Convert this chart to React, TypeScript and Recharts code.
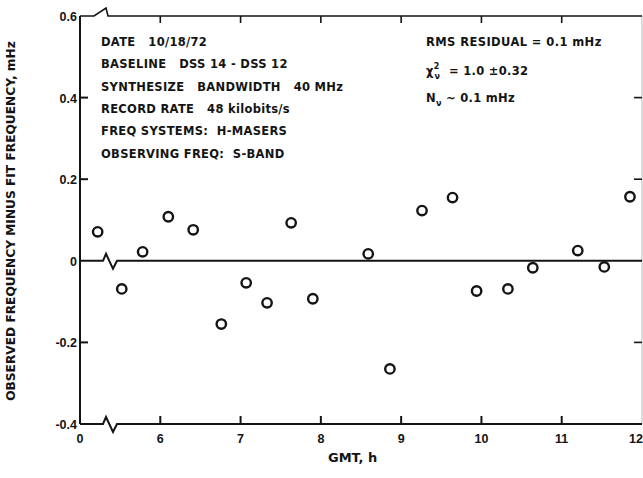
import { ScatterChart, Scatter, XAxis, YAxis, ReferenceLine } from 'recharts';

const gmtHours = [5.22, 5.52, 5.78, 6.1, 6.41, 6.76, 7.07, 7.33, 7.63, 7.9, 8.59, 8.86, 9.26, 9.64, 9.94, 10.33, 10.64, 11.2, 11.53, 11.85];
const residuals = [0.071, -0.069, 0.022, 0.108, 0.076, -0.155, -0.054, -0.103, 0.093, -0.093, 0.017, -0.265, 0.123, 0.155, -0.074, -0.069, -0.017, 0.025, -0.015, 0.157];
const xTicks = [5, 6, 7, 8, 9, 10, 11, 12];
const yTicks = [-0.4, -0.2, 0, 0.2, 0.4, 0.6];
const markedX = [6, 7, 8, 9, 10, 11];
const markedY = [0.4, 0.2, -0.2];
const infoLines = [
  'DATE   10/18/72',
  'BASELINE   DSS 14 - DSS 12',
  'SYNTHESIZE   BANDWIDTH   40 MHz',
  'RECORD RATE   48 kilobits/s',
  'FREQ SYSTEMS:  H-MASERS',
  'OBSERVING FREQ:  S-BAND',
];

const data = gmtHours.map((x, i) => ({ x, y: residuals[i] }));

const ink = '#141414';
const numFont = '"Liberation Sans", Arial, sans-serif';
const txtFont = '"DejaVu Sans", sans-serif';

// x axis is broken after the origin, first tick reads 0
const fmtX = (v: number) => (v === 5 ? '0' : String(v));
const fmtY = (v: number) => (v === 0 ? '0' : v.toFixed(1));

const BottomTick = ({ x, y, payload }: any) => {
  const last = payload.value === 12;
  return (
    <text
      x={last ? x + 1 : x}
      y={y + 19}
      textAnchor={last ? 'end' : 'middle'}
      fontSize={12.5}
      fontWeight="bold"
      fill={ink}
      fontFamily={numFont}
    >
      {fmtX(payload.value)}
    </text>
  );
};

const LeftTick = ({ x, y, payload }: any) => (
  <text x={x - 3} y={y + 5} textAnchor="end" fontSize={12.5} fontWeight="bold" fill={ink} fontFamily={numFont}>
    {fmtY(payload.value)}
  </text>
);

// short inward marks at both ends of a grid position
const vMarks = (props: any) => {
  const { x1, y1, y2 } = props;
  const top = Math.min(y1, y2);
  const bot = Math.max(y1, y2);
  return (
    <g>
      <line x1={x1} y1={top} x2={x1} y2={top + 7} stroke={ink} strokeWidth={1.6} />
      <line x1={x1} y1={bot} x2={x1} y2={bot - 8} stroke={ink} strokeWidth={2} />
    </g>
  );
};

const hMarks = (props: any) => {
  const { x1, x2, y1 } = props;
  const l = Math.min(x1, x2);
  const r = Math.max(x1, x2);
  return (
    <g>
      <line x1={l} y1={y1} x2={l + 8} y2={y1} stroke={ink} strokeWidth={2} />
      <line x1={r} y1={y1} x2={r - 8} y2={y1} stroke={ink} strokeWidth={1.6} />
    </g>
  );
};

const zigzag = (props: any) => {
  const { x1, y1, x2 } = props;
  const bx = x1 + 23;
  const d = `M${x1},${y1} L${bx},${y1} L${bx + 3},${y1 - 7} L${bx + 10},${y1 + 8} L${bx + 14},${y1} L${x2},${y1}`;
  return <path d={d} fill="none" stroke={ink} strokeWidth={2} />;
};

const caret = (props: any) => {
  const { x1, y1, x2 } = props;
  const bx = x1 + 14;
  const d = `M${x1},${y1} L${bx},${y1} L${bx + 12},${y1 - 8} L${bx + 14},${y1} L${x2},${y1}`;
  return <path d={d} fill="none" stroke={ink} strokeWidth={1.6} />;
};

const ringShape = (props: any) => (
  <circle cx={props.cx} cy={props.cy} r={4.7} fill="none" stroke={ink} strokeWidth={2.4} />
);

export default function App() {
  return (
    <div style={{ position: 'absolute', left: 0, top: 0, width: 643, height: 478, background: '#fff' }}>
      <ScatterChart width={643} height={478} margin={{ top: 16, right: 1, bottom: 24, left: 0 }}>
        <XAxis
          type="number"
          dataKey="x"
          domain={[5, 12]}
          ticks={xTicks}
          height={30}
          axisLine={false}
          tickLine={false}
          tickSize={0}
          tickMargin={0}
          tick={<BottomTick />}
          interval={0}
        />
        <YAxis
          type="number"
          dataKey="y"
          domain={[-0.4, 0.6]}
          ticks={yTicks}
          width={80}
          axisLine={{ stroke: ink, strokeWidth: 2 }}
          tickLine={false}
          tickSize={0}
          tickMargin={0}
          tick={<LeftTick />}
          interval={0}
        />
        <ReferenceLine x={12} ifOverflow="visible" stroke="#c4c4c4" strokeWidth={1.2} />
        {markedX.map((v) => (
          <ReferenceLine key={'x' + v} x={v} ifOverflow="visible" shape={vMarks} />
        ))}
        {markedY.map((v) => (
          <ReferenceLine key={'y' + v} y={v} ifOverflow="visible" shape={hMarks} />
        ))}
        <ReferenceLine y={0.6} ifOverflow="visible" shape={caret} />
        <ReferenceLine y={0} ifOverflow="visible" shape={zigzag} />
        <ReferenceLine y={-0.4} ifOverflow="visible" shape={zigzag} />
        <Scatter data={data} shape={ringShape} isAnimationActive={false} />
      </ScatterChart>
      <svg width={643} height={478} style={{ position: 'absolute', left: 0, top: 0, pointerEvents: 'none' }}>
        <g fontFamily={txtFont} fontWeight="bold" fill={ink}>
          {infoLines.map((t, i) => (
            <text key={i} x={101} y={46 + i * 22.3} fontSize={11.5} letterSpacing={0.3} xmlSpace="preserve">
              {t}
            </text>
          ))}
          <text x={426} y={46} fontSize={11.5} letterSpacing={0.4} xmlSpace="preserve">RMS RESIDUAL = 0.1 mHz</text>
          <text x={426} y={75} fontSize={11.5} letterSpacing={0.3} xmlSpace="preserve">
            <tspan>χ</tspan>
            <tspan dy={-6} fontSize={8}>2</tspan>
            <tspan dx={-5} dy={10} fontSize={8}>ν</tspan>
            <tspan dy={-4}>{'  = 1.0 ±0.32'}</tspan>
          </text>
          <text x={426} y={102} fontSize={11.5} letterSpacing={0.3} xmlSpace="preserve">
            <tspan>N</tspan>
            <tspan dy={4} fontSize={8}>ν</tspan>
            <tspan dy={-4}>{' ~ 0.1 mHz'}</tspan>
          </text>
          <text x={328} y={462} fontSize={13}>GMT, h</text>
          <text x={15} y={221} fontSize={12.2} textAnchor="middle" transform="rotate(-90 15 221)">
            OBSERVED FREQUENCY MINUS FIT FREQUENCY, mHz
          </text>
        </g>
      </svg>
    </div>
  );
}
